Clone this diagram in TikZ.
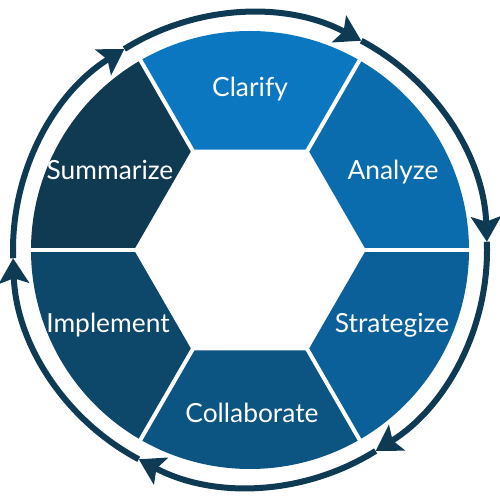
\documentclass[tikz,border=0pt]{standalone}
\usepackage{fontspec}
\setmainfont{Lato}
\usetikzlibrary{arrows.meta}
\definecolor{ringnavy}{HTML}{0E3B53}
\definecolor{clarifyblue}{HTML}{0B77C0}
\definecolor{analyzeblue}{HTML}{0A6BAD}
\definecolor{strategizeblue}{HTML}{0B609A}
\definecolor{collaborateblue}{HTML}{0C5482}
\definecolor{implementblue}{HTML}{0D4769}
\definecolor{summarizeblue}{HTML}{0F3A52}

\begin{document}
\begin{tikzpicture}[
        segtext/.style={text=white, font=\fontsize{15}{17}\selectfont, text height=0.72em, text depth=0pt},
        ringarrow/.style={ringnavy, line width=0.12cm, -{Stealth[length=0.5cm, width=0.6cm, inset=0.1cm]}}
    ]
            \useasboundingbox (-5,-5) rectangle (5,5);
            % ring segments
            \foreach \a/\c in {60/clarifyblue,0/analyzeblue,-60/strategizeblue,-120/collaborateblue,180/implementblue,120/summarizeblue}
            {
                \fill[\c] (\a:2.32) -- (\a:4.38) arc[start angle=\a, end angle=\a+60, radius=4.38] -- (\a+60:2.32) -- cycle;
            }
            \foreach \a in {0,60,...,300}
            {
                \draw[white, line width=0.08cm] (\a:2.2) -- (\a:4.5);
            }
            % outer cycle
            \foreach \a in {0,60,...,300}
            {
                \draw[ringarrow] (\a+62:4.74) arc[start angle=\a+62, end angle=\a+2, radius=4.74];
            }
            \node[segtext] (clarify) at (0,3.2) {Clarify};
            \node[segtext] (analyze) at (2.86,1.54) {Analyze};
            \node[segtext] (strategize) at (2.84,-1.52) {Strategize};
            \node[segtext] (collaborate) at (0.04,-3.32) {Collaborate};
            \node[segtext] (implement) at (-2.84,-1.52) {Implement};
            \node[segtext] (summarize) at (-2.8,1.54) {Summarize};
        \end{tikzpicture}
\end{document}
